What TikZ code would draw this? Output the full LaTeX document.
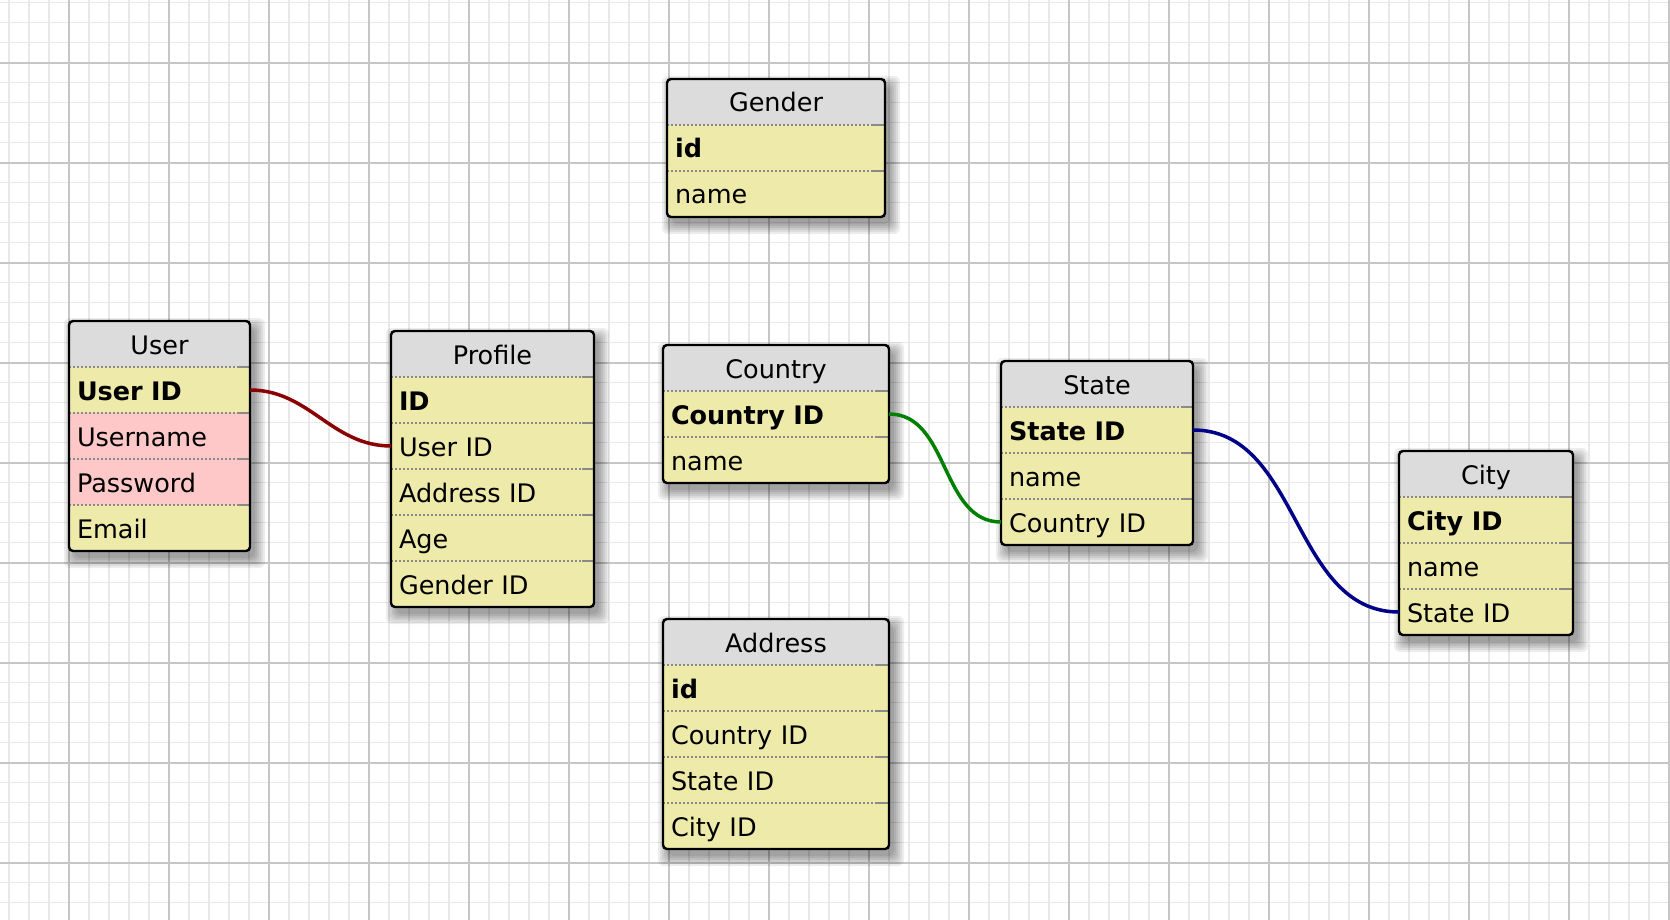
\documentclass[tikz,border=0pt]{standalone}
\usepackage{fontspec}
\setmainfont{DejaVu Sans}
\usetikzlibrary{positioning,calc,backgrounds}

\definecolor{gridminor}{HTML}{E8E8E8}
\definecolor{gridmajor}{HTML}{C6C6C6}
\definecolor{headgray}{HTML}{DCDCDC}
\definecolor{rowyellow}{HTML}{EEEAAA}
\definecolor{rowpink}{HTML}{FFC8C8}
\definecolor{sepgray}{HTML}{8A8A8A}
\definecolor{linkred}{HTML}{8B0000}
\definecolor{linkgreen}{HTML}{008000}
\definecolor{linkblue}{HTML}{000088}

\tikzset{
	tblhead/.style={rectangle, fill=headgray, align=center, font=\fontsize{25.5}{30}\selectfont, inner xsep=8pt, inner ysep=7pt, text height=26pt, text depth=6pt, outer sep=0pt},
	tblrow/.style={tblhead, fill=rowyellow, align=left},
	keyrow/.style={tblrow, font=\fontsize{25.5}{30}\selectfont\bfseries},
	pinkrow/.style={tblrow, fill=rowpink},
	sepline/.style={sepgray, line width=1.8pt, dash pattern=on 2pt off 2pt},
	tblframe/.style={draw=black, line width=2.4pt, rounded corners=4pt},
	fklink/.style={line width=3.5pt, out=0, in=180}
}

\begin{document}
\begin{tikzpicture}[x=1pt, y=-1pt]
		\useasboundingbox (0,0) rectangle (1670,920);
		
		%grid
		\begin{scope}[on background layer]
			\fill[white] (0,0) rectangle (1670,920);
			\foreach \i in {0,...,83}
				\draw[gridminor, line width=1.5pt] ({9+20*\i},0) -- ({9+20*\i},920);
			\foreach \i in {0,...,45}
				\draw[gridminor, line width=1.5pt] (0,{2.7+20*\i}) -- (1670,{2.7+20*\i});
			\foreach \i in {0,...,16}
				\draw[gridmajor, line width=1.8pt] ({69+100*\i},0) -- ({69+100*\i},920);
			\foreach \i in {0,...,8}
				\draw[gridmajor, line width=1.8pt] (0,{62.7+100*\i}) -- (1670,{62.7+100*\i});
		\end{scope}
		
		%User
		\begin{scope}[nodes={text width=165pt}]
			\node[tblhead, anchor=north west] (userhead) at (69,321) {User};
			\node[keyrow, below=0pt of userhead] (userid) {User ID};
			\node[pinkrow, below=0pt of userid] (username) {Username};
			\node[pinkrow, below=0pt of username] (userpass) {Password};
			\node[tblrow, below=0pt of userpass] (useremail) {Email};
		\end{scope}
		
		%Profile
		\begin{scope}[nodes={text width=187pt}]
			\node[tblhead, anchor=north west] (profhead) at (391,331) {Profile};
			\node[keyrow, below=0pt of profhead] (profid) {ID};
			\node[tblrow, below=0pt of profid] (profuser) {User ID};
			\node[tblrow, below=0pt of profuser] (profaddr) {Address ID};
			\node[tblrow, below=0pt of profaddr] (profage) {Age};
			\node[tblrow, below=0pt of profage] (profgender) {Gender ID};
		\end{scope}
		
		%Gender
		\begin{scope}[nodes={text width=202pt}]
			\node[tblhead, anchor=north west] (genderhead) at (667,79) {Gender};
			\node[keyrow, below=0pt of genderhead] (genderid) {id};
			\node[tblrow, below=0pt of genderid] (gendername) {name};
		\end{scope}
		
		%Country
		\begin{scope}[nodes={text width=210pt}]
			\node[tblhead, anchor=north west] (countryhead) at (663,345) {Country};
			\node[keyrow, below=0pt of countryhead] (countryid) {Country ID};
			\node[tblrow, below=0pt of countryid] (countryname) {name};
		\end{scope}
		
		%State
		\begin{scope}[nodes={text width=176pt}]
			\node[tblhead, anchor=north west] (statehead) at (1001,361) {State};
			\node[keyrow, below=0pt of statehead] (stateid) {State ID};
			\node[tblrow, below=0pt of stateid] (statename) {name};
			\node[tblrow, below=0pt of statename] (statecountry) {Country ID};
		\end{scope}
		
		%City
		\begin{scope}[nodes={text width=158pt}]
			\node[tblhead, anchor=north west] (cityhead) at (1399,451) {City};
			\node[keyrow, below=0pt of cityhead] (cityid) {City ID};
			\node[tblrow, below=0pt of cityid] (cityname) {name};
			\node[tblrow, below=0pt of cityname] (citystate) {State ID};
		\end{scope}
		
		%Address
		\begin{scope}[nodes={text width=210pt}]
			\node[tblhead, anchor=north west] (addrhead) at (663,619) {Address};
			\node[keyrow, below=0pt of addrhead] (addrid) {id};
			\node[tblrow, below=0pt of addrid] (addrcountry) {Country ID};
			\node[tblrow, below=0pt of addrcountry] (addrstate) {State ID};
			\node[tblrow, below=0pt of addrstate] (addrcity) {City ID};
		\end{scope}
		
		%row separators
		\foreach \r in {userid,username,userpass,useremail,profid,profuser,profaddr,profage,profgender,genderid,gendername,countryid,countryname,stateid,statename,statecountry,cityid,cityname,citystate,addrid,addrcountry,addrstate,addrcity}{
			\draw[sepline] (\r.north west) -- (\r.north east);
			\draw[sepgray, line width=1.8pt] ($(\r.north east)+(-12,0)$) -- (\r.north east);
		}
		
		%frames and shadows
		\foreach \h/\l in {userhead/useremail,profhead/profgender,genderhead/gendername,countryhead/countryname,statehead/statecountry,cityhead/citystate,addrhead/addrcity}{
			\begin{scope}[on background layer]
				\foreach \k in {0,...,5}
					\fill[black, opacity=0.07, rounded corners=6pt] ($(\h.north west)+({5-2*\k},{7-2*\k})$) rectangle ($(\l.south east)+({5+2*\k},{7+2*\k})$);
			\end{scope}
			\draw[tblframe] (\h.north west) rectangle (\l.south east);
		}
		
		%links
		\draw[fklink, linkred] (userid.east) to (profuser.west);
		\draw[fklink, linkgreen] (countryid.east) to (statecountry.west);
		\draw[fklink, linkblue] (stateid.east) to (citystate.west);
		
\end{tikzpicture}
\end{document}
